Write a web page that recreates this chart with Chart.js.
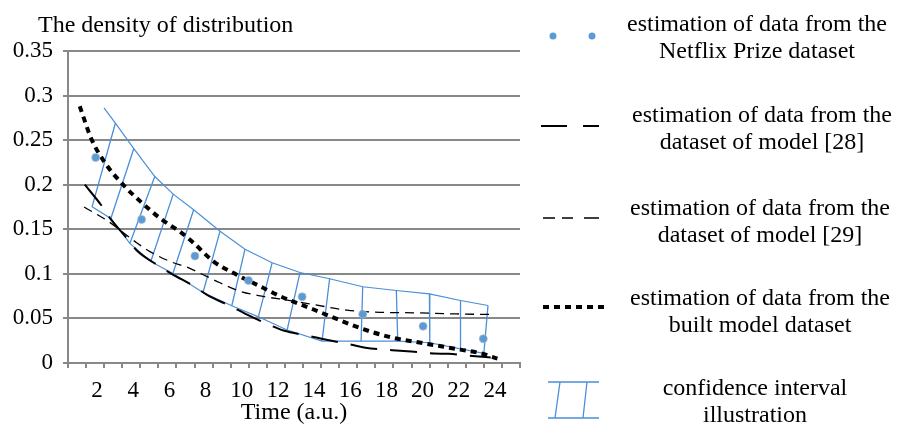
<!DOCTYPE html>
<html><head><meta charset="utf-8">
<script src="https://cdn.jsdelivr.net/npm/chart.js@4/dist/chart.umd.min.js"></script>
<style>html,body{margin:0;padding:0;background:#fff;}#wrap{width:904px;height:427px;}</style>
</head><body><div id="wrap"><canvas id="c" width="904" height="427"></canvas></div>
<script>
// ---- text ----
const chartTitle = "The density of distribution";
const xAxisTitle = "Time (a.u.)";
const xTickLabels = [2, 4, 6, 8, 10, 12, 14, 16, 18, 20, 22, 24];
const yTickValues = [0, 0.05, 0.1, 0.15, 0.2, 0.25, 0.3, 0.35];
const legendLabels = [
  ["estimation of data from the", "Netflix Prize dataset"],
  ["estimation of data from the", "dataset of model [28]"],
  ["estimation of data from the", "dataset of model [29]"],
  ["estimation of data from the", "built model dataset"],
  ["confidence interval", "illustration"]
];

// ---- data ----
const netflixX = [2.03, 4.57, 7.52, 10.48, 13.45, 16.8, 20.14, 23.47];
const netflixY = [0.2305, 0.161, 0.120, 0.0926, 0.0743, 0.0547, 0.0413, 0.0271];

const model28X = [1.43, 2.35, 2.81, 3.82, 4.29, 5.49, 6.23, 7.52, 8.17, 9.56, 10.29, 11.68, 12.42, 13.9, 14.73, 16.12, 16.95, 18.43, 19.26, 20.73, 21.55, 23.04, 23.88];
const model28Y = [0.200, 0.1767, 0.1629, 0.1385, 0.1265, 0.1094, 0.1001, 0.0855, 0.0768, 0.0630, 0.0555, 0.0424, 0.0365, 0.0301, 0.0264, 0.0208, 0.0171, 0.0144, 0.0132, 0.0107, 0.0103, 0.0076, 0.0062];

const model29X = [1.39, 2.72, 4.29, 5.03, 6.14, 7.15, 7.98, 8.91, 10.02, 11.22, 12.79, 14.08, 15.93, 17.5, 19.62, 22.0, 24.06];
const model29Y = [0.175, 0.159, 0.135, 0.125, 0.114, 0.107, 0.099, 0.090, 0.0805, 0.075, 0.070, 0.0656, 0.0592, 0.057, 0.0563, 0.055, 0.0544];

const builtX = [1.15, 1.8, 2.53, 3.64, 4.57, 5.68, 6.78, 7.43, 8.54, 9.83, 11.13, 12.23, 14.08, 16.83, 18.33, 20.2, 22.2, 23.3, 24.25];
const builtY = [0.288, 0.251, 0.225, 0.198, 0.180, 0.161, 0.146, 0.135, 0.114, 0.099, 0.086, 0.075, 0.060, 0.038, 0.029, 0.022, 0.015, 0.011, 0.005];

const ciUpperX = [2.49, 3.12, 4.14, 5.30, 6.32, 7.45, 8.91, 10.29, 11.79, 13.33, 14.97, 16.80, 18.66, 20.49, 22.21, 23.73];
const ciUpperY = [0.2863, 0.269, 0.2406, 0.2092, 0.1894, 0.1719, 0.1479, 0.1277, 0.1124, 0.1015, 0.0945, 0.0855, 0.0813, 0.0776, 0.0701, 0.0645];
const ciLowerX = [1.83, 2.87, 3.92, 5.08, 6.30, 7.97, 9.56, 11.03, 12.62, 14.55, 16.71, 18.74, 20.51, 22.21, 23.50];
const ciLowerY = [0.1752, 0.1621, 0.1341, 0.1139, 0.1004, 0.0791, 0.0642, 0.0518, 0.0370, 0.0245, 0.0245, 0.0245, 0.0227, 0.0159, 0.0107];

// ---- styles ----
const FONT = "'Liberation Serif', 'Times New Roman', serif";
const GRID = '#888888';
const DOT = '#5b9bd5';
const CI = '#4a8fd8';
const DASH28 = [27, 13];
const DASH29 = [9, 6];
const DASHBUILT = [6, 5];

const pts = (xs, ys) => xs.map((x, i) => ({x: x, y: ys[i]}));

// rungs: each upper point (after the first) joined to the matching lower point
const rungData = [];
ciLowerX.forEach((x, i) => {
  rungData.push({x: ciUpperX[i + 1], y: ciUpperY[i + 1]});
  rungData.push({x: x, y: ciLowerY[i]});
  rungData.push({x: x, y: null});
});

const overlay = {
  id: 'overlay',
  afterDraw(chart) {
    const ctx = chart.ctx;
    ctx.save();
    ctx.fillStyle = '#000';
    ctx.font = '24px ' + FONT;
    ctx.textAlign = 'left';
    ctx.textBaseline = 'alphabetic';
    ctx.fillText(chartTitle, 38, 32);

    const baselines = [31, 122, 215, 305, 395];
    const centers = [757, 762, 760, 760, 755];
    ctx.textAlign = 'center';
    legendLabels.forEach((lines, i) => {
      lines.forEach((t, j) => ctx.fillText(t, centers[i], baselines[i] + j * 27));
    });

    // symbols
    ctx.fillStyle = DOT;
    [553, 592].forEach(x => { ctx.beginPath(); ctx.arc(x, 36, 3.5, 0, Math.PI * 2); ctx.fill(); });
    ctx.strokeStyle = '#000';
    ctx.lineWidth = 2;
    ctx.beginPath(); ctx.moveTo(541, 126); ctx.lineTo(567, 126); ctx.moveTo(583, 126); ctx.lineTo(599, 126); ctx.stroke();
    ctx.lineWidth = 1.5;
    ctx.beginPath();
    [[543, 555], [562, 573], [584, 599]].forEach(s => { ctx.moveTo(s[0], 218); ctx.lineTo(s[1], 218); });
    ctx.stroke();
    ctx.lineWidth = 4;
    ctx.setLineDash(DASHBUILT);
    ctx.beginPath(); ctx.moveTo(543, 307); ctx.lineTo(608, 307); ctx.stroke();
    ctx.setLineDash([]);
    ctx.strokeStyle = CI;
    ctx.lineWidth = 1.3;
    ctx.beginPath();
    ctx.moveTo(548, 382); ctx.lineTo(599, 382);
    ctx.moveTo(548, 418); ctx.lineTo(599, 418);
    ctx.moveTo(560, 382); ctx.lineTo(555, 418);
    ctx.moveTo(587, 382); ctx.lineTo(583, 418);
    ctx.stroke();
    ctx.restore();
  }
};

const halfTicks = [];
for (let v = 0.5; v <= 25.5; v += 0.5) halfTicks.push({value: v});

new Chart(document.getElementById('c'), {
  type: 'line',
  data: {
    datasets: [
      {label: 'Netflix', data: pts(netflixX, netflixY), showLine: false, pointRadius: 4,
       pointBackgroundColor: DOT, pointBorderColor: 'rgba(170,185,200,0.7)', pointBorderWidth: 1},
      {label: 'built', data: pts(builtX, builtY), borderColor: '#000', borderWidth: 4, borderDash: DASHBUILT,
       pointRadius: 0, cubicInterpolationMode: 'monotone'},
      {label: 'm28', data: pts(model28X, model28Y), borderColor: '#000', borderWidth: 2, borderDash: DASH28,
       pointRadius: 0, cubicInterpolationMode: 'monotone'},
      {label: 'm29', data: pts(model29X, model29Y), borderColor: '#000', borderWidth: 1.3, borderDash: DASH29,
       pointRadius: 0, cubicInterpolationMode: 'monotone'},
      {label: 'ciU', data: pts(ciUpperX, ciUpperY), borderColor: CI, borderWidth: 1.2, pointRadius: 0, tension: 0},
      {label: 'ciL', data: pts(ciLowerX, ciLowerY), borderColor: CI, borderWidth: 1.2, pointRadius: 0, tension: 0},
      {label: 'rungs', data: rungData, borderColor: CI, borderWidth: 1.3, pointRadius: 0, tension: 0, spanGaps: false}
    ]
  },
  options: {
    responsive: false,
    animation: false,
    devicePixelRatio: 1,
    layout: {padding: {left: 0, right: 384, top: 51, bottom: 0}},
    plugins: {legend: {display: false}, tooltip: {enabled: false}, title: {display: false}},
    scales: {
      x: {
        type: 'linear', min: 0.5, max: 25.5,
        afterBuildTicks: s => { s.ticks = halfTicks.map(t => ({value: t.value})); },
        afterFit: s => { s.height = 64; },
        ticks: {
          autoSkip: false, maxRotation: 0, padding: 9, labelOffset: 2, color: '#000',
          font: {family: FONT, size: 23},
          callback: v => xTickLabels.includes(v) ? String(v) : ''
        },
        grid: {
          drawOnChartArea: false, drawTicks: true, tickLength: 5, lineWidth: 2,
          tickColor: c => (c.tick && c.tick.value % 1 !== 0) ? GRID : 'rgba(0,0,0,0)'
        },
        border: {display: true, color: GRID, width: 2},
        title: {display: true, text: xAxisTitle, color: '#000', font: {family: FONT, size: 24}, padding: {top: 0, bottom: 0}}
      },
      y: {
        min: 0, max: 0.35,
        afterBuildTicks: s => { s.ticks = yTickValues.map(v => ({value: v})); },
        afterFit: s => { s.width = 68; },
        ticks: {
          padding: 10, color: '#000', font: {family: FONT, size: 23},
          callback: v => String(Number(v.toFixed(2)))
        },
        grid: {color: GRID, lineWidth: 2, tickLength: 5, tickColor: GRID},
        border: {display: true, color: GRID, width: 2}
      }
    }
  },
  plugins: [overlay]
});
</script>
</body></html>
